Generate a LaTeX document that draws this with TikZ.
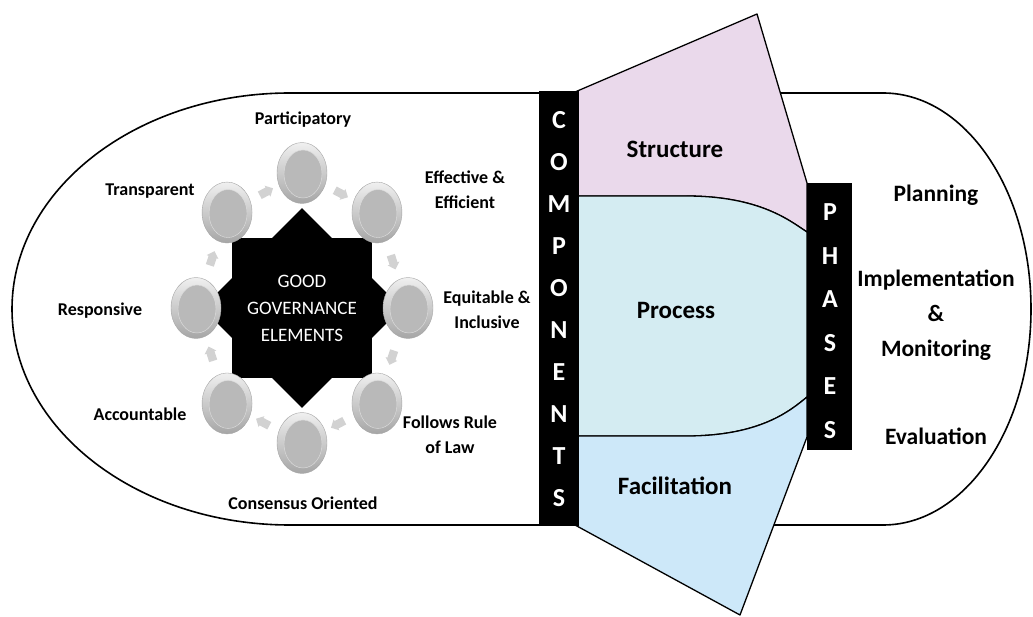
\documentclass[tikz,border=0pt]{standalone}
\usepackage{fontspec}
\setmainfont{Carlito}
\usetikzlibrary{calc,shapes.geometric,shapes.arrows}
\definecolor{structpink}{RGB}{234,217,235}
\definecolor{proccyan}{RGB}{212,236,242}
\definecolor{facblue}{RGB}{205,232,249}

\begin{document}
\begin{tikzpicture}[x=1pt,y=1pt,
  outline/.style={line width=1.6pt},
  fan/.style={draw,line width=1.3pt,line join=round},
  black bar/.style={fill=black,inner sep=0pt},
  bar letter/.style={text=white,font=\bfseries\fontsize{26}{26}\selectfont,inner sep=0pt},
  gem/.style={ellipse,minimum width=50pt,minimum height=61pt,inner sep=0pt,
    draw=gray!70,top color=gray!12,bottom color=gray!70,
    path picture={\fill[gray!55,draw=gray!25] ([shift={(1pt,-1pt)}]path picture bounding box.center)
      ellipse [x radius=19pt,y radius=24pt];}},
  flow arrow/.style={single arrow,fill=gray!35,inner sep=4pt,minimum height=15pt,
    single arrow head extend=2pt},
  elem label/.style={font=\bfseries\fontsize{18}{25}\selectfont,align=center},
  part label/.style={font=\bfseries\fontsize{25}{30}\selectfont},
  phase label/.style={font=\bfseries\fontsize{23.5}{35}\selectfont,align=center},
]
\useasboundingbox (0,0) rectangle (1033,616);

% outer capsule halves
\draw[outline] (760,523) -- (883,523) arc[start angle=90,end angle=-90,x radius=148,y radius=216] -- (760,91);
\draw[outline] (545,523) -- (290,523) arc[start angle=90,end angle=270,x radius=278,y radius=216] -- (545,91);

% components fan
\coordinate (peak) at (757,602);
\coordinate (tip) at (740,1);
\filldraw[fan,fill=structpink] (575,524) -- (peak) -- (807,433) -- (807,384)
  .. controls (790,395) and (760,420) .. (686,420) -- (575,420) -- cycle;
\filldraw[fan,fill=proccyan] (575,420) -- (686,420) .. controls (760,420) and (790,395) .. (807,384)
  -- (807,219) .. controls (790,205) and (760,180) .. (686,180) -- (575,180) -- cycle;
\filldraw[fan,fill=facblue] (575,180) -- (686,180) .. controls (760,180) and (790,205) .. (807,219)
  -- (807,179) -- (tip) -- (575,91) -- cycle;

\node[part label] (structure) at (675,467) {Structure};
\node[part label] (process) at (676,306) {Process};
\node[part label] (facilitation) at (675,130) {Facilitation};

% bars
\node[black bar,minimum width=40pt,minimum height=434pt] (components) at (559,307.5) {};
\foreach \l [count=\k] in {C,O,M,P,O,N,E,N,T,S}
  \node[bar letter] (comp\k) at (559,{496-(\k-1)*42}) {\l};
\node[black bar,minimum width=45pt,minimum height=267pt] (phases) at (829.5,299.5) {};
\foreach \l [count=\k] in {P,H,A,S,E,S}
  \node[bar letter] (phase\k) at (830,{404-(\k-1)*43.6}) {\l};

\node[phase label] (planning) at (936,421) {Planning};
\node[phase label] (implementation) at (936,301) {Implementation\\\&\\Monitoring};
\node[phase label] (evaluation) at (936,180) {Evaluation};

% good governance star
\node[diamond,fill=black,minimum width=200pt,minimum height=200pt,inner sep=0pt] (star) at (302,308) {};
\node[fill=black,minimum size=140pt,inner sep=0pt,text=white,align=center,
  font=\fontsize{19}{27}\selectfont] (core) at (302,308) {GOOD\\GOVERNANCE\\ELEMENTS};

\foreach \a [count=\k] in {90,45,0,-45,-90,-135,180,135}
  \node[gem] (c\k) at ({302+106*cos(\a)},{308+135*sin(\a)}) {};
\foreach \i [evaluate=\i as \j using {int(mod(\i,8)+1)}] in {1,...,8}
  \path let \p1=($(c\j)-(c\i)$), \n1={atan2(\y1,\x1)} in
    node[flow arrow,rotate=\n1] (flow\i) at ($(c\i)!0.5!(c\j)$) {};

\node[elem label] (participatory) at (303,496) {Participatory};
\node[elem label] (effective) at (465,426) {Effective \&\\Efficient};
\node[elem label] (equitable) at (487,306) {Equitable \&\\Inclusive};
\node[elem label] (follows) at (450,181) {Follows Rule\\of Law};
\node[elem label] (consensus) at (303,113) {Consensus Oriented};
\node[elem label] (accountable) at (140,202) {Accountable};
\node[elem label] (responsive) at (100,305) {Responsive};
\node[elem label] (transparent) at (150,425) {Transparent};
\end{tikzpicture}
\end{document}
